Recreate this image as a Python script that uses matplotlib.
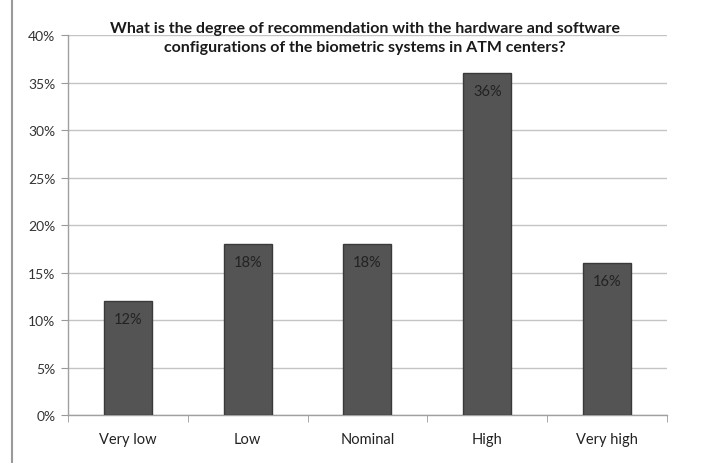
import numpy as np
import matplotlib.pyplot as plt
from matplotlib.lines import Line2D

categories = ['Very low', 'Low', 'Nominal', 'High', 'Very high']
percent = [12, 18, 18, 36, 16]
y_ticks = [0, 5, 10, 15, 20, 25, 30, 35, 40]
title = ('What is the degree of recommendation with the hardware and software\n'
         'configurations of the biometric systems in ATM centers?')

plt.rcParams['font.family'] = ['Lato', 'DejaVu Sans']

fig = plt.figure(figsize=(7.08, 4.64), dpi=100)
ax = fig.add_axes([0.096, 0.1034, 0.846, 0.8186])

X = np.arange(len(categories))
bars = ax.bar(X, percent, width=0.4, color='#545454', edgecolor='#3a3a3a',
              linewidth=1.0, zorder=3)
for x, v in zip(X, percent):
    ax.text(x, v - 1.9, '%d%%' % v, ha='center', va='center', fontsize=10.5,
            color='#222222', zorder=4)

ax.set_xlim(-0.5, len(categories) - 0.5)
ax.set_ylim(0, 40)
ax.set_yticks(y_ticks)
ax.set_yticklabels(['%d%%' % t for t in y_ticks], fontsize=10, color='#333333')
ax.set_xticks(X)
ax.set_xticklabels(categories, fontsize=10.5, color='#222222')
ax.tick_params(axis='x', length=0, pad=12)
ax.tick_params(axis='y', length=5, color='#999999', pad=4)
ax.set_xticks(np.arange(-0.5, len(categories)), minor=True)
ax.tick_params(axis='x', which='minor', length=5, color='#999999')

ax.yaxis.grid(True, color='#c4c4c4', linewidth=1.0, zorder=0)
ax.set_axisbelow(True)
for s in ['top', 'right']:
    ax.spines[s].set_visible(False)
for s in ['left', 'bottom']:
    ax.spines[s].set_color('#a0a0a0')
    ax.spines[s].set_linewidth(1.0)

fig.text(0.515, 0.918, title, ha='center', va='center', fontsize=11.5,
         fontweight='bold', color='#1a1a1a', linespacing=1.45)

# thin frame line at the left edge
fig.add_artist(Line2D([12 / 708, 12 / 708], [0, 1], color='#9a9a9a',
                      linewidth=1.5, transform=fig.transFigure))

plt.savefig('out.png', dpi=100)
